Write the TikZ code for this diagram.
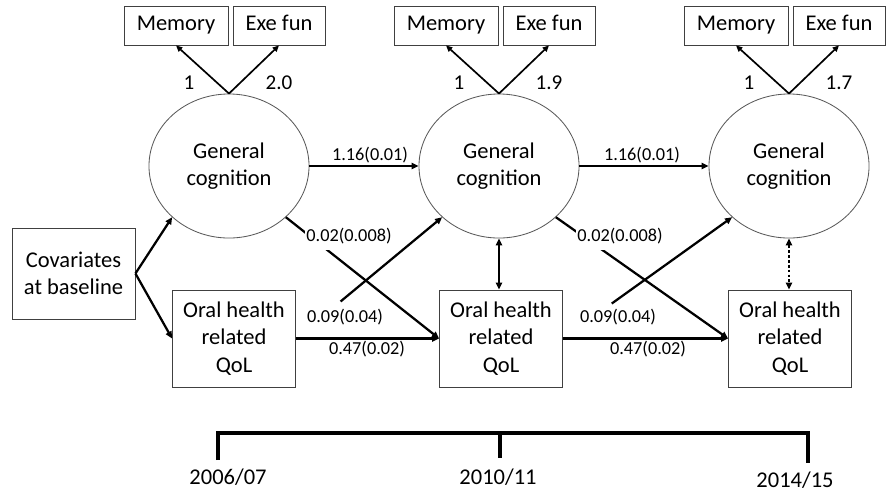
\documentclass[tikz,border=0pt]{standalone}
\usepackage{fontspec}
\setmainfont{Carlito}
\usetikzlibrary{arrows.meta,shapes.geometric}

\tikzset{
  nodetext/.style={font=\fontsize{16}{19.5}\selectfont},
  latent/.style={ellipse, draw=black!65, line width=0.6pt, minimum width=4cm, minimum height=3.6cm, align=center, nodetext},
  obsbox/.style={rectangle, draw=black!75, line width=0.6pt, align=center, nodetext},
  indbox/.style={obsbox, minimum height=0.975cm, inner sep=1pt, text height=0.64em, text depth=0pt},
  regline/.style={line width=1.6pt, -{Triangle[length=5pt,width=4.5pt]}},
  loadarrow/.style={line width=1.2pt, -{Triangle[length=4.5pt,width=4pt]}},
  bothways/.style={line width=1.6pt, {Triangle[length=5pt,width=4.5pt]}-{Triangle[length=5pt,width=4.5pt]}},
  coef/.style={font=\fontsize{13}{15}\selectfont, inner sep=1pt},
  loadlab/.style={font=\fontsize{15}{17}\selectfont},
  yearlab/.style={font=\fontsize{16}{18}\selectfont},
  timeline/.style={line width=3.2pt, line join=miter}
}

\begin{document}
\begin{tikzpicture}[x=0.025cm, y=-0.025cm]
  \useasboundingbox (0,0) rectangle (891,496);

  % Three waves: cognition, indicators, oral health
  \foreach \i/\x/\q/\ld in {1/229/234/2.0, 2/499/501/1.9, 3/789/790/1.7} {
    \node[latent] (c\i) at (\x,166) {General\\cognition};
    \node[indbox, minimum width=2.6cm] (m\i) at (\x-53,25.5) {Memory};
    \node[indbox, minimum width=2.3cm] (e\i) at (\x+50,25.5) {Exe fun};
    \draw[loadarrow] (c\i.north) -- (m\i.south);
    \draw[loadarrow] (c\i.north) -- (e\i.south);
    \node[loadlab] (l\i) at (\x-40,83) {1};
    \node[loadlab] (k\i) at (\x+50,83) {\ld};
    \node[obsbox, minimum width=3.075cm, minimum height=2.425cm] (q\i) at (\q,338.5) {Oral health\\related\\QoL};
  }

  % Covariates
  \node[obsbox, minimum width=3.075cm, minimum height=2.275cm] (cov) at (73.5,273.5) {Covariates\\at baseline};
  \draw[regline] (cov.east) -- (c1.south west);
  \draw[regline] (cov.east) -- (q1.west);

  % Autoregressive paths
  \draw[regline] (c1.east) -- (c2.west);
  \draw[regline] (c2.east) -- (c3.west);
  \draw[regline] (q1.east) -- (q2.west);
  \draw[regline] (q2.east) -- (q3.west);

  % Cross-lagged paths
  \draw[regline] (c1.south east) -- (q2.west);
  \draw[regline] (c2.south east) -- (q3.west);
  \draw[regline, shorten <=1.45cm] (q1.east) -- (c2.south west);
  \draw[regline, shorten <=1.5cm] (q2.east) -- (c3.south west);

  % Correlations
  \draw[bothways] (c2.south) -- (c2.south |- q2.north);
  \draw[bothways, dash pattern=on 2pt off 1.5pt] (c3.south) -- (c3.south |- q3.north);

  % Coefficients
  \node[coef] (a1) at (370,155) {1.16(0.01)};
  \node[coef] (a2) at (642,155) {1.16(0.01)};
  \node[coef, fill=white, minimum height=0.7cm] (g1) at (349,236) {0.02(0.008)};
  \node[coef, fill=white, minimum height=0.7cm] (g2) at (620,236) {0.02(0.008)};
  \node[coef] (h1) at (345,317) {0.09(0.04)};
  \node[coef] (h2) at (618,317) {0.09(0.04)};
  \node[coef] (b1) at (367,349) {0.47(0.02)};
  \node[coef] (b2) at (648,349) {0.47(0.02)};

  % Time line
  \coordinate (t1) at (218,460);
  \coordinate (t1top) at (218,433);
  \coordinate (t2) at (500,458);
  \coordinate (t2top) at (500,433);
  \coordinate (t3) at (808,463);
  \coordinate (t3top) at (808,433);
  \draw[timeline] (t1) -- (t1top) -- (t3top) -- (t3);
  \draw[timeline] (t2top) -- (t2);
  \node[yearlab] (y1) at (228,477) {2006/07};
  \node[yearlab] (y2) at (498,477) {2010/11};
  \node[yearlab] (y3) at (795,480) {2014/15};
\end{tikzpicture}
\end{document}
